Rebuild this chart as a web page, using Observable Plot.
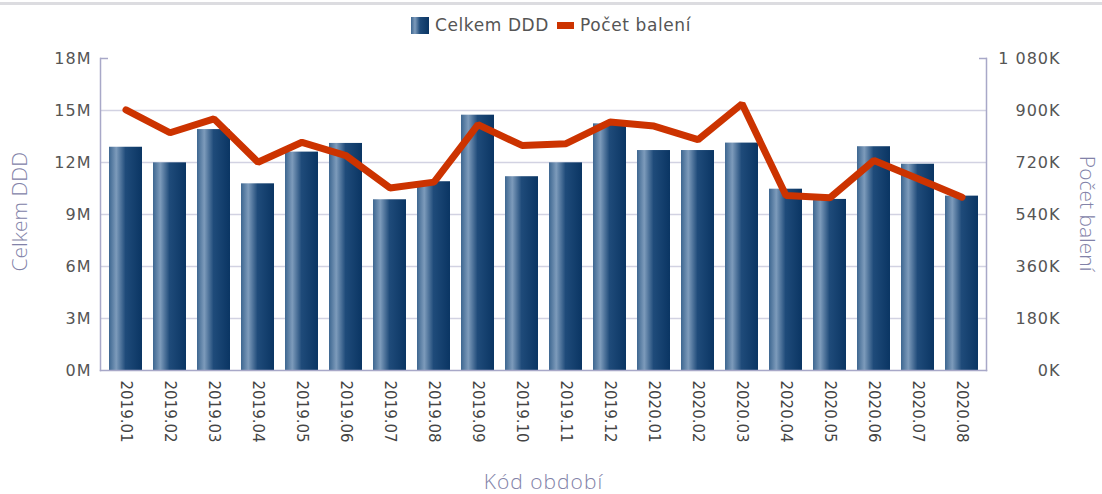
<!DOCTYPE html>
<html>
<head>
<meta charset="utf-8">
<script src="https://cdn.jsdelivr.net/npm/d3@7"></script>
<script src="https://cdn.jsdelivr.net/npm/@observablehq/plot@0.6"></script>
<style>
  body { margin: 0; background: #fff; }
  #wrap { position: relative; width: 1102px; height: 494px; overflow: hidden; font-family: "DejaVu Sans", sans-serif; }
  #topline { position: absolute; left: 0; top: 2px; width: 1102px; height: 3px; background: #dcdce0; }
  #legend { position: absolute; top: 15px; left: 0; width: 1102px; display: flex; justify-content: center; align-items: center; font-size: 17px; letter-spacing: 0.6px; color: #555; gap: 0; }
  #legend .sw1 { width: 18px; height: 17px; background: linear-gradient(to right, #3d6690 0%, #7d9bbb 22%, #1f4b7a 50%, #0a3563 100%); margin-right: 6px; }
  #legend .sw2 { width: 17px; height: 7px; background: #cc3300; margin: 0 6px 0 8px; }
  #chart { position: absolute; left: 0; top: 0; }
  .ytick text { letter-spacing: 1px; }
  .title { font-family: "DejaVu Sans ExtraLight", "Open Sans", sans-serif; font-weight: 300; }
  .xtitle { letter-spacing: 1px; }
</style>
</head>
<body>
<div id="wrap">
  <div id="topline"></div>
  <div id="legend"><div class="sw1"></div><span>Celkem DDD</span><div class="sw2"></div><span>Počet balení</span></div>
  <div id="chart"></div>
</div>
<script>
const periods = ["2019.01","2019.02","2019.03","2019.04","2019.05","2019.06","2019.07","2019.08","2019.09","2019.10","2019.11","2019.12","2020.01","2020.02","2020.03","2020.04","2020.05","2020.06","2020.07","2020.08"];
const celkemDDD = [12.88e6, 11.98e6, 13.9e6, 10.77e6, 12.6e6, 13.1e6, 9.85e6, 10.89e6, 14.73e6, 11.18e6, 11.98e6, 14.23e6, 12.69e6, 12.69e6, 13.12e6, 10.46e6, 9.87e6, 12.91e6, 11.9e6, 10.06e6];
const pocetBaleni = [902e3, 823e3, 871e3, 721e3, 790e3, 744e3, 632e3, 652e3, 851e3, 779e3, 785e3, 860e3, 846e3, 799e3, 923e3, 606e3, 598e3, 727e3, 664e3, 600e3];
const leftTicks = [0, 3e6, 6e6, 9e6, 12e6, 15e6, 18e6];
const rightTicks = [0, 180e3, 360e3, 540e3, 720e3, 900e3, 1080e3];

const leftMax = 18e6, rightMax = 1080e3;
const ratio = leftMax / rightMax;
const rows = periods.map((p, i) => ({period: p, ddd: celkemDDD[i], bal: pocetBaleni[i]}));
const fmtK = d3.formatLocale({thousands: " ", grouping: [3], decimal: ","}).format(",");

const gridCol = "#d2d2e2";
const axisCol = "#a8a8c8";
const titleCol = "#8282a8";

const plot = Plot.plot({
  width: 1102,
  height: 494,
  marginTop: 58,
  marginBottom: 124,
  marginLeft: 100,
  marginRight: 116,
  style: {fontFamily: "DejaVu Sans, sans-serif", fontSize: "16px", color: "#555", background: "transparent"},
  x: {domain: periods, paddingInner: 0.255, paddingOuter: 0.13, label: null},
  y: {domain: [0, leftMax], label: null},
  marks: [
    Plot.gridY(leftTicks.slice(1, -1), {stroke: gridCol, strokeOpacity: 1, strokeWidth: 1.5}),
    Plot.barY(rows, {x: "period", y: "ddd", fill: "url(#barGrad)"}),
    Plot.line(rows, {x: "period", y: d => d.bal * ratio, stroke: "#cc3300", strokeWidth: 7, strokeLinejoin: "miter"}),
    Plot.frame({anchor: "left", stroke: axisCol, strokeWidth: 1.5}),
    Plot.frame({anchor: "right", stroke: axisCol, strokeWidth: 1.5}),
    Plot.frame({anchor: "bottom", stroke: axisCol, strokeWidth: 1.5}),
    Plot.axisY({anchor: "left", ticks: [leftMax], tickSize: -8, tickFormat: () => "", stroke: axisCol, strokeWidth: 1.5}),
    Plot.axisY({anchor: "right", ticks: [leftMax], tickSize: -8, tickFormat: () => "", stroke: axisCol, strokeWidth: 1.5}),
    Plot.axisY({anchor: "left", ticks: leftTicks, tickSize: 0, tickPadding: 9, tickFormat: d => (d / 1e6) + "M", className: "ytick", fill: "#555"}),
    Plot.axisY({anchor: "right", ticks: rightTicks.map(v => v * ratio), tickSize: 0, textAnchor: "end", dx: 74, tickPadding: 0,
      tickFormat: d => fmtK(Math.round(d / ratio / 1000)) + "K", className: "ytick", fill: "#555"}),
    Plot.axisX({tickRotate: 90, tickSize: 0, tickPadding: 10, fontSize: 15, fill: "#444"}),
    Plot.text(["Celkem DDD"], {frameAnchor: "left", dx: -80, dy: 57, rotate: -90, fill: titleCol, fontSize: 21, className: "title"}),
    Plot.text(["Počet balení"], {frameAnchor: "right", dx: 100, dy: 57, rotate: 90, fill: titleCol, fontSize: 21, className: "title"}),
    Plot.text(["Kód období"], {frameAnchor: "bottom", dy: 118, fill: titleCol, fontSize: 21, className: "title xtitle"})
  ]
});

const defs = d3.select(plot).insert("defs", ":first-child");
const grad = defs.append("linearGradient").attr("id", "barGrad").attr("x1", "0").attr("x2", "1").attr("y1", "0").attr("y2", "0");
[["0%", "#3d6690"], ["22%", "#7d9bbb"], ["50%", "#1f4b7a"], ["100%", "#0a3563"]].forEach(([o, c]) =>
  grad.append("stop").attr("offset", o).attr("stop-color", c));

document.getElementById("chart").appendChild(plot);
</script>
</body>
</html>
